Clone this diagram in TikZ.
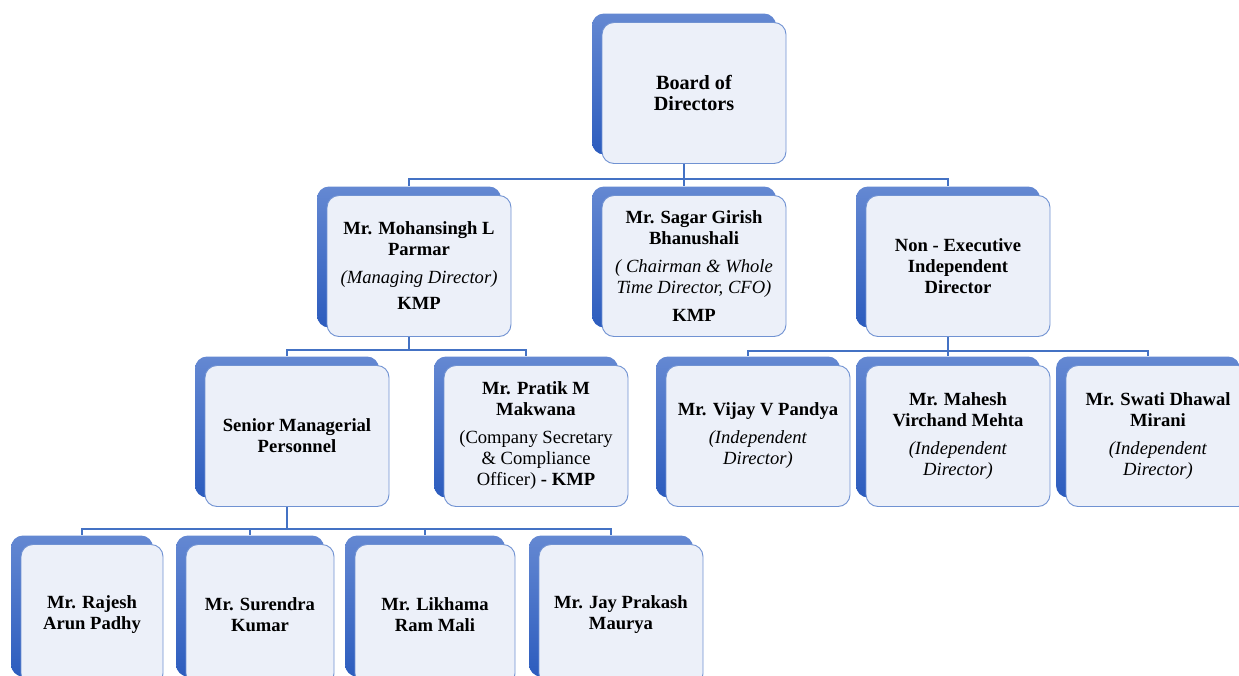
\documentclass[tikz,border=0pt]{standalone}
\usepackage{fontspec}
\setmainfont{Liberation Serif}
\usetikzlibrary{backgrounds}
\definecolor{lineblue}{RGB}{68,114,196}
\definecolor{backtop}{RGB}{100,136,210}
\definecolor{backbot}{RGB}{44,92,190}
\definecolor{frontfill}{RGB}{236,240,249}
\definecolor{frontdraw}{RGB}{112,146,210}
\tikzset{
  backbox/.style={rounded corners=12pt, top color=backtop, bottom color=backbot, draw=none, minimum height=141pt, inner sep=0pt},
  frontbox/.style={rounded corners=12pt, fill=frontfill, draw=frontdraw, line width=0.9pt, minimum height=141pt, inner sep=2pt, align=center, font=\fontsize{18.6}{21}\selectfont},
  bigtext/.style={font=\fontsize{20.2}{21.5}\selectfont},
  conn/.style={draw=lineblue, line width=1.2pt},
}
\begin{document}
\begin{tikzpicture}[x=1pt,y=-1pt]
\useasboundingbox (0,0) rectangle (1239,675);
\clip (0,0) rectangle (1239,675);
% back boxes
\node[backbox, minimum width=184pt] (b0) at (684,84) {};
\node[backbox, minimum width=184pt] (b1) at (409,257) {};
\node[backbox, minimum width=184pt] (b2) at (684,257) {};
\node[backbox, minimum width=184pt] (b3) at (948,257) {};
\node[backbox, minimum width=184pt] (b4) at (287,427) {};
\node[backbox, minimum width=184pt] (b5) at (526,427) {};
\node[backbox, minimum width=184pt] (b6) at (748,427) {};
\node[backbox, minimum width=184pt] (b7) at (948,427) {};
\node[backbox, minimum width=184pt] (b8) at (1148,427) {};
\node[backbox, minimum width=142pt] (b9) at (82,606) {};
\node[backbox, minimum width=148pt] (b10) at (250,606) {};
\node[backbox, minimum width=160pt] (b11) at (425,606) {};
\node[backbox, minimum width=164pt] (b12) at (611,606) {};
% connectors
\coordinate (j0) at (684,179);
\coordinate (j1) at (409,350);
\coordinate (j3) at (948,351);
\coordinate (j4) at (287,529);
\begin{scope}[on background layer]
\draw[conn] (b0.south) -- (j0) -| (b1.north);
\draw[conn] (j0) -- (b2.north);
\draw[conn] (j0) -| (b3.north);
\draw[conn] (b1.south) -- (j1) -| (b4.north);
\draw[conn] (j1) -| (b5.north);
\draw[conn] (b3.south) -- (j3) -| (b6.north);
\draw[conn] (j3) -- (b7.north);
\draw[conn] (j3) -| (b8.north);
\draw[conn] (b4.south) -- (j4) -| (b9.north);
\draw[conn] (j4) -| (b10.north);
\draw[conn] (j4) -| (b11.north);
\draw[conn] (j4) -| (b12.north);
\end{scope}
% front boxes
\node[frontbox, bigtext, minimum width=184pt] (f0) at (694,93) {\textbf{Board of}\\\textbf{Directors}};
\node[frontbox, minimum width=184pt] (f1) at (419,266) {\textbf{Mr. Mohansingh L}\\\textbf{Parmar}\\[7pt]\textit{(Managing Director)}\\[5pt]\textbf{KMP}};
\node[frontbox, minimum width=184pt] (f2) at (694,266) {\textbf{Mr. Sagar Girish}\\\textbf{Bhanushali}\\[7pt]\textit{( Chairman \& Whole}\\\textit{Time Director, CFO)}\\[7pt]\textbf{KMP}};
\node[frontbox, minimum width=184pt] (f3) at (958,266) {\textbf{Non - Executive}\\\textbf{Independent}\\\textbf{Director}};
\node[frontbox, minimum width=184pt] (f4) at (297,436) {\textbf{Senior Managerial}\\\textbf{Personnel}};
\node[frontbox, minimum width=184pt] (f5) at (536,436) {\textbf{Mr. Pratik M}\\\textbf{Makwana}\\[7pt](Company Secretary\\\& Compliance\\Officer) \textbf{- KMP}};
\node[frontbox, minimum width=184pt] (f6) at (758,436) {\textbf{Mr. Vijay V Pandya}\\[7pt]\textit{(Independent}\\\textit{Director)}};
\node[frontbox, minimum width=184pt] (f7) at (958,436) {\textbf{Mr. Mahesh}\\\textbf{Virchand Mehta}\\[7pt]\textit{(Independent}\\\textit{Director)}};
\node[frontbox, minimum width=184pt] (f8) at (1158,436) {\textbf{Mr. Swati Dhawal}\\\textbf{Mirani}\\[7pt]\textit{(Independent}\\\textit{Director)}};
\node[frontbox, minimum width=142pt] (f9) at (92,615) {\textbf{Mr. Rajesh}\\\textbf{Arun Padhy}};
\node[frontbox, minimum width=148pt] (f10) at (260,615) {\textbf{Mr. Surendra}\\\textbf{Kumar}};
\node[frontbox, minimum width=160pt] (f11) at (435,615) {\textbf{Mr. Likhama}\\\textbf{Ram Mali}};
\node[frontbox, minimum width=164pt] (f12) at (621,615) {\textbf{Mr. Jay Prakash}\\\textbf{Maurya}};
\end{tikzpicture}
\end{document}
